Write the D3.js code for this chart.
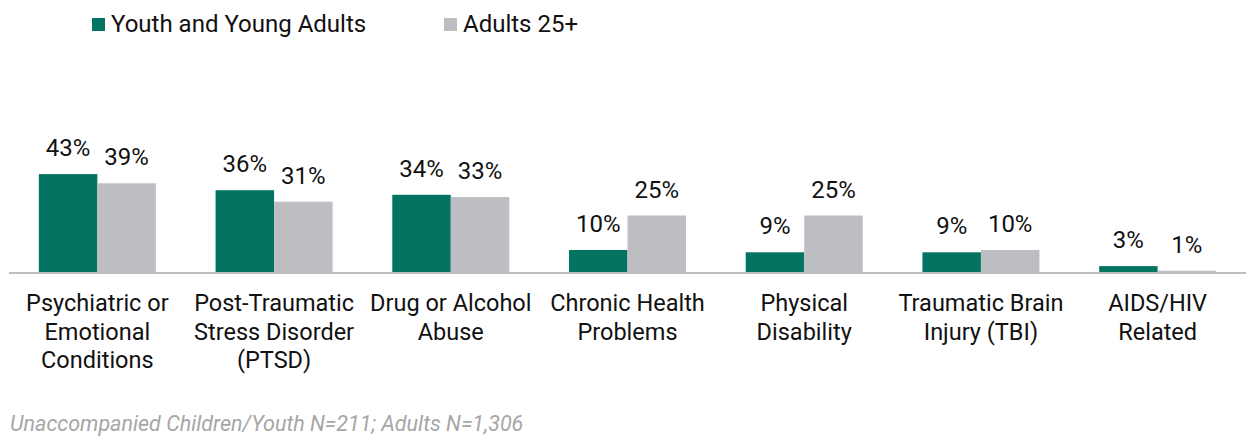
<!DOCTYPE html>
<html>
<head>
<meta charset="utf-8">
<script src="https://cdn.jsdelivr.net/npm/d3@7"></script>
<style>
  html, body { margin: 0; padding: 0; background: #fff; }
  svg { display: block; font-family: Roboto, "Noto Sans", sans-serif; }
</style>
</head>
<body>
<svg id="chart" width="1246" height="439"></svg>
<script>
const categories = [
  ["Psychiatric or", "Emotional", "Conditions"],
  ["Post-Traumatic", "Stress Disorder", "(PTSD)"],
  ["Drug or Alcohol", "Abuse"],
  ["Chronic Health", "Problems"],
  ["Physical", "Disability"],
  ["Traumatic Brain", "Injury (TBI)"],
  ["AIDS/HIV", "Related"]
];
const seriesNames = ["Youth and Young Adults", "Adults 25+"];
const youth = [43, 36, 34, 10, 9, 9, 3];
const adults = [39, 31, 33, 25, 25, 10, 1];
const colors = ["#037461", "#BDBEC1"];
const footnote = "Unaccompanied Children/Youth N=211; Adults N=1,306";

const svg = d3.select("#chart");
const ids = categories.map((d, i) => i);

const x0 = d3.scaleBand().domain(ids).range([9, 1246]).paddingInner(0.338).paddingOuter(0.169);
const x1 = d3.scaleBand().domain([0, 1]).range([0, x0.bandwidth()]);
const y = d3.scaleLinear().domain([0, 50]).range([273, 158]);

// baseline axis
svg.append("line")
  .attr("x1", 9).attr("x2", 1246)
  .attr("y1", y(0)).attr("y2", y(0))
  .attr("stroke", "#BFBFBF").attr("stroke-width", 2);

const data = ids.map(i => [youth[i], adults[i]]);

const groups = svg.append("g").selectAll("g").data(data).join("g")
  .attr("transform", (d, i) => `translate(${x0(i)},0)`);

groups.selectAll("rect").data(d => d).join("rect")
  .attr("x", (d, j) => x1(j))
  .attr("width", x1.bandwidth())
  .attr("y", d => y(d))
  .attr("height", d => y(0) - y(d) - 1)
  .attr("fill", (d, j) => colors[j]);

groups.selectAll("text.val").data(d => d).join("text")
  .attr("class", "val")
  .attr("x", (d, j) => x1(j) + x1.bandwidth() / 2)
  .attr("y", d => y(d) - 18)
  .attr("text-anchor", "middle")
  .attr("font-size", 24)
  .attr("fill", "#111")
  .text(d => d + "%");

// category labels
const axisG = svg.append("g");
categories.forEach((lines, i) => {
  const t = axisG.append("text")
    .attr("x", x0(i) + x0.bandwidth() / 2)
    .attr("y", 311)
    .attr("text-anchor", "middle")
    .attr("font-size", 23.5)
    .attr("fill", "#111");
  lines.forEach((ln, k) => {
    t.append("tspan").attr("x", x0(i) + x0.bandwidth() / 2).attr("dy", k === 0 ? 0 : 28.5).text(ln);
  });
});

// legend
const legendX = [92, 444];
seriesNames.forEach((name, j) => {
  svg.append("rect").attr("x", legendX[j]).attr("y", 18).attr("width", 13).attr("height", 13).attr("fill", colors[j]);
  svg.append("text").attr("x", legendX[j] + 19).attr("y", 32)
    .attr("font-size", 24).attr("fill", "#111").text(name);
});

// footnote
svg.append("text").attr("x", 10).attr("y", 431)
  .attr("font-size", 21.5).attr("font-style", "italic").attr("fill", "#A6A6A6")
  .text(footnote);
</script>
</body>
</html>
